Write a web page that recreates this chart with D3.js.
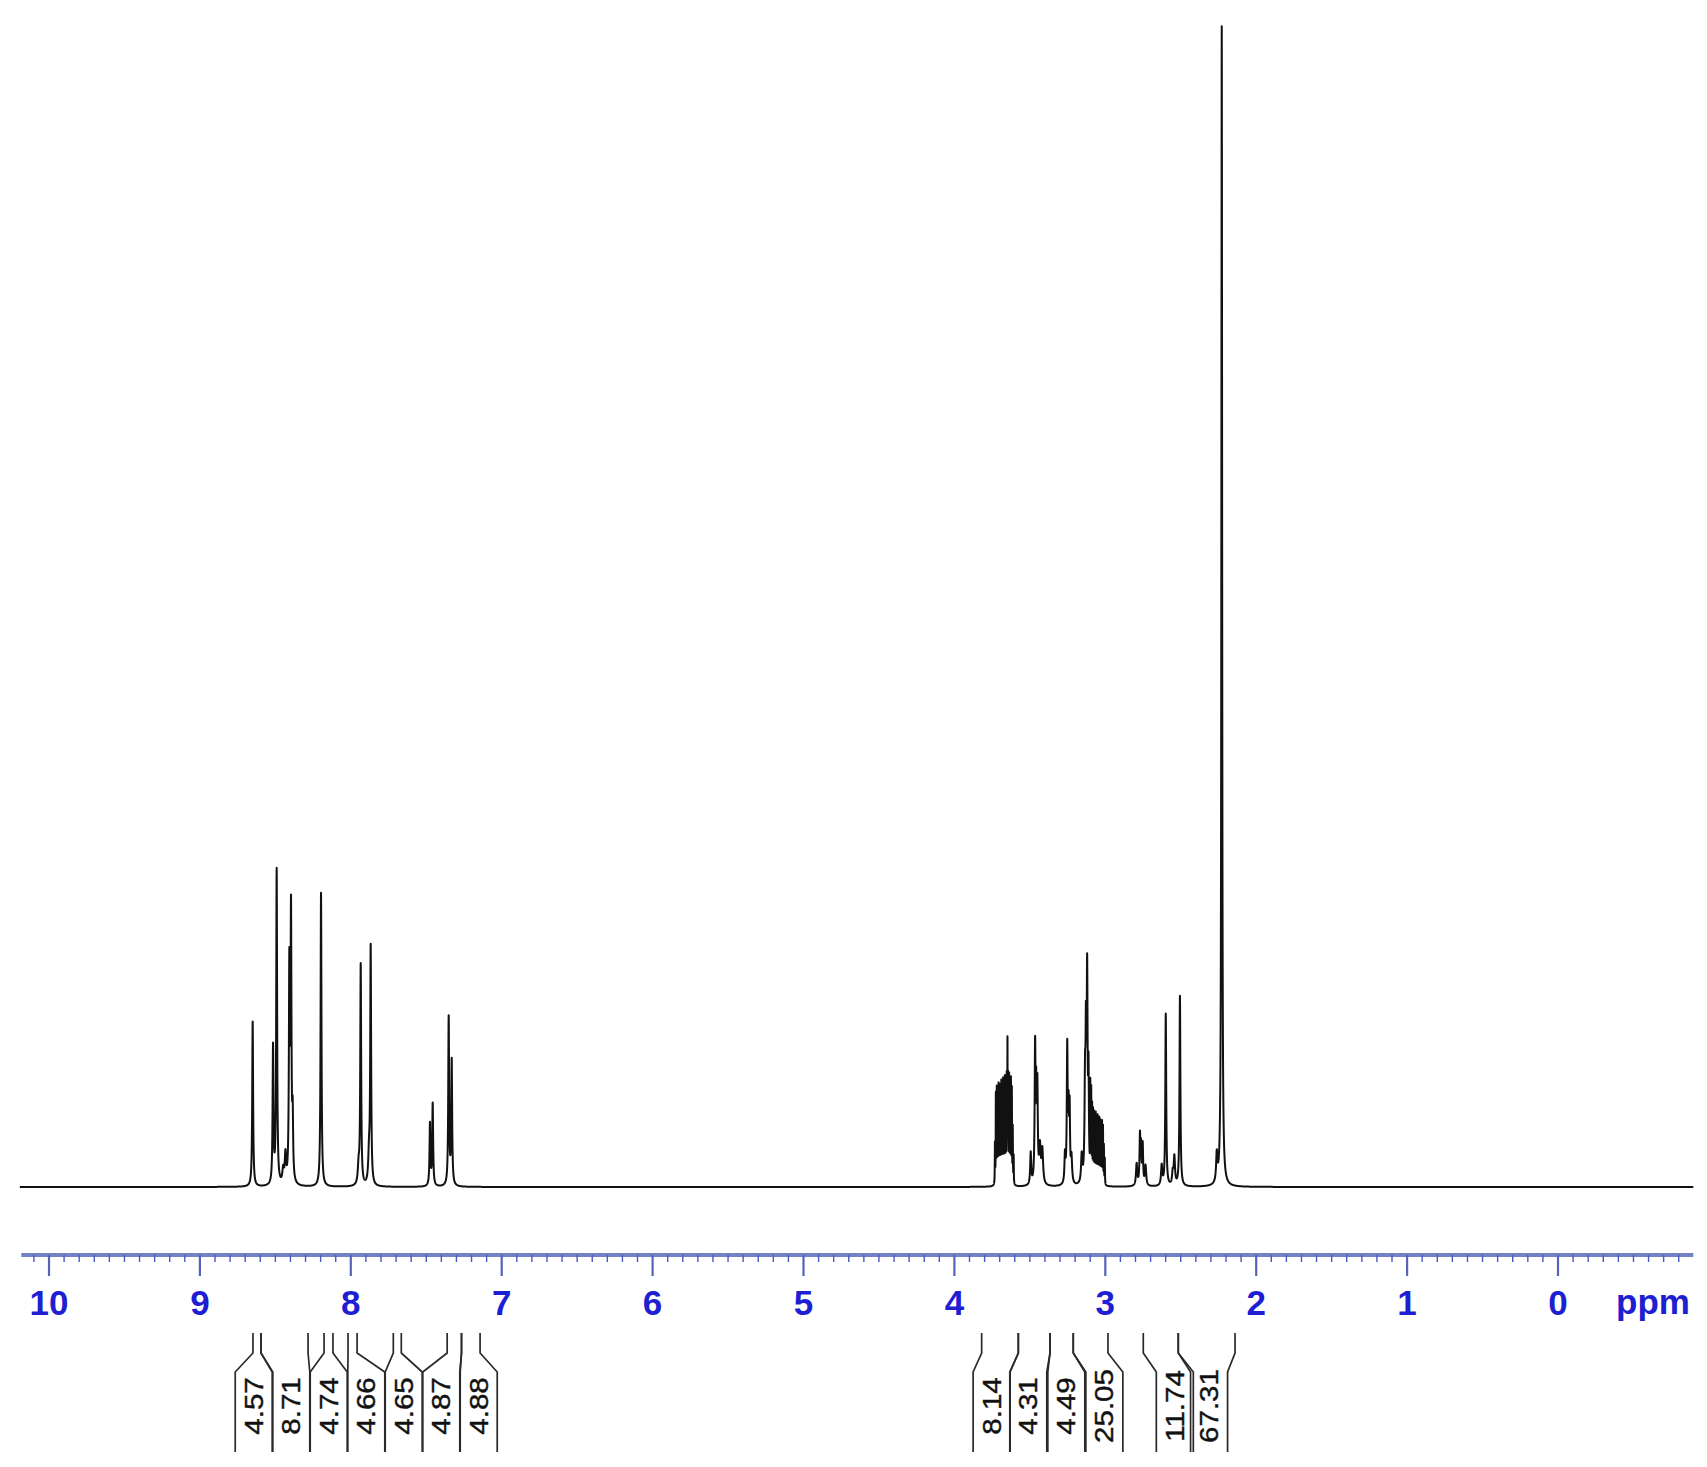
<!DOCTYPE html>
<html>
<head>
<meta charset="utf-8">
<script src="https://cdn.jsdelivr.net/npm/d3@7"></script>
<style>
  html, body { margin: 0; padding: 0; background: #ffffff; }
  svg { display: block; }
</style>
</head>
<body>
<svg id="chart" width="1707" height="1467"></svg>
<script>
// ---------------- DATA ----------------
// Spectrum lines: chemical shift (ppm), peak height (intensity units), half-width (ppm)
const peakPpm = [
  8.647, 8.512, 8.488, 8.445, 8.430, 8.404, 8.393, 8.382, 8.194,
  7.945, 7.931, 7.876, 7.865, 7.472, 7.454, 7.348, 7.328,
  3.728, 3.722, 3.716, 3.710, 3.704, 3.698, 3.692, 3.686, 3.680, 3.674, 3.668,
  3.662, 3.656, 3.650, 3.645, 3.640, 3.634, 3.628, 3.622, 3.616, 3.610, 3.604,
  3.491, 3.462, 3.455, 3.447, 3.430, 3.414,
  3.264, 3.249, 3.240, 3.233, 3.221,
  3.153, 3.131, 3.125, 3.117, 3.108,
  3.096, 3.090, 3.084, 3.078, 3.072, 3.066, 3.060, 3.054, 3.048, 3.042, 3.036,
  3.030, 3.024, 3.018, 3.012, 3.006, 3.000,
  2.789, 2.767, 2.760, 2.749, 2.730,
  2.623, 2.596, 2.550, 2.539, 2.502,
  2.258, 2.225
];
const peakHeight = [
  165, 137, 315, 14, 28, 212, 266, 60, 294,
  18, 220, 28, 236, 62, 82, 168, 124,
  40, 88, 92, 88, 94, 92, 92, 96, 94, 98, 94,
  100, 96, 100, 135, 100, 102, 98, 100, 92, 55, 28,
  32, 132, 76, 92, 36, 34,
  28, 136, 65, 70, 26,
  28, 95, 120, 200, 100,
  90, 86, 72, 68, 66, 64, 66, 62, 64, 62, 62,
  60, 58, 60, 56, 38, 26,
  22, 48, 34, 40, 20,
  20, 172, 12, 28, 190,
  28, 1160
];
const peakWidth = [
  0.0035, 0.0035, 0.0035, 0.006, 0.005, 0.0035, 0.0035, 0.0035, 0.0035,
  0.006, 0.0035, 0.006, 0.0035, 0.0035, 0.0035, 0.0035, 0.0035,
  0.0012, 0.0012, 0.0012, 0.0012, 0.0012, 0.0012, 0.0012, 0.0012, 0.0012, 0.0012, 0.0012,
  0.0012, 0.0012, 0.0012, 0.0012, 0.0012, 0.0012, 0.0012, 0.0012, 0.0012, 0.0012, 0.0012,
  0.004, 0.0035, 0.003, 0.0035, 0.006, 0.006,
  0.004, 0.0035, 0.003, 0.003, 0.005,
  0.005, 0.004, 0.003, 0.0035, 0.003,
  0.0012, 0.0012, 0.0012, 0.0012, 0.0012, 0.0012, 0.0012, 0.0012, 0.0012, 0.0012, 0.0012,
  0.0012, 0.0012, 0.0012, 0.0012, 0.0012, 0.0012,
  0.005, 0.0035, 0.003, 0.0035, 0.005,
  0.005, 0.0035, 0.005, 0.005, 0.0035,
  0.005, 0.003
];
const spectrumRange = [10.19, -0.9];        // ppm span of the plotted trace
const maxIntensity = 1162;

// Axis
const majorTicks = [10, 9, 8, 7, 6, 5, 4, 3, 2, 1, 0];
const tickLabels = ["10", "9", "8", "7", "6", "5", "4", "3", "2", "1", "0"];
const axisUnit = "ppm";

// Integrals: value, region start / end (ppm), label column centre (ppm)
const integralValues = ["4.57", "8.71", "4.74", "4.66", "4.65", "4.87", "4.88",
                        "8.14", "4.31", "4.49", "25.05", "11.74", "67.31"];
const integralStart = [8.645, 8.592, 8.174, 8.015, 7.715, 7.358, 7.263,
                       3.816, 3.573, 3.363, 3.209, 2.745, 2.513];
const integralEnd   = [8.592, 8.280, 8.115, 7.955, 7.662, 7.263, 7.140,
                       3.573, 3.363, 3.209, 2.979, 2.513, 2.137];
const integralLabelAt = [8.640, 8.391, 8.143, 7.894, 7.646, 7.397, 7.149,
                         3.750, 3.507, 3.255, 3.003, 2.536, 2.309];

// ---------------- LAYOUT ----------------
const svg = d3.select("#chart");
const x = d3.scaleLinear().domain([10, 0]).range([48.5, 1557.5]);
const y = d3.scaleLinear().domain([0, maxIntensity]).range([1187, 25]);

// ---------------- SPECTRUM ----------------
const step = 0.0004;
const grid = d3.range(spectrumRange[1], spectrumRange[0] + step / 2, step).concat(peakPpm);
grid.sort((a, b) => a - b);
function intensity(p) {
  let s = 0;
  for (let i = 0; i < peakPpm.length; i++) {
    const d = p - peakPpm[i];
    const g2 = peakWidth[i] * peakWidth[i];
    s += peakHeight[i] * g2 / (g2 + d * d);
  }
  return s;
}
const trace = grid.map(p => ({ p, v: intensity(p) }));
const line = d3.line().x(d => x(d.p)).y(d => y(d.v));
svg.append("path")
  .datum(trace)
  .attr("d", line)
  .attr("fill", "none")
  .attr("stroke", "#111")
  .attr("stroke-width", 2)
  .attr("stroke-linejoin", "round");

// ---------------- AXIS ----------------
const axisY = 1255;
const axisG = svg.append("g").attr("transform", `translate(0,${axisY})`);
const minorTicks = d3.range(-8, 102).map(i => i / 10).filter(v => majorTicks.indexOf(v) < 0);

axisG.append("line")
  .attr("x1", x(spectrumRange[0] - 0.01)).attr("x2", x(spectrumRange[1]))
  .attr("y1", 0).attr("y2", 0)
  .attr("stroke", "#7382c6").attr("stroke-width", 4);

const minorG = axisG.append("g")
  .call(d3.axisBottom(x).tickValues(minorTicks).tickSize(7).tickFormat(""));
minorG.select(".domain").remove();
minorG.selectAll(".tick line").attr("stroke", "#4a58c0").attr("stroke-width", 1.4);

const majorG = axisG.append("g")
  .call(d3.axisBottom(x).tickValues(majorTicks).tickSize(21).tickPadding(14)
        .tickFormat((d, i) => tickLabels[i]));
majorG.select(".domain").remove();
majorG.selectAll(".tick line").attr("stroke", "#5564b8").attr("stroke-width", 2.2);
majorG.selectAll(".tick text")
  .attr("fill", "#1e1ed2")
  .attr("font-family", "'Liberation Sans', Arial, sans-serif")
  .attr("font-weight", "bold")
  .attr("font-size", 35);

svg.append("text")
  .attr("x", 1616).attr("y", 1314)
  .attr("fill", "#1e1ed2")
  .attr("font-family", "'Liberation Sans', Arial, sans-serif")
  .attr("font-weight", "bold")
  .attr("font-size", 35)
  .text(axisUnit);

// ---------------- INTEGRALS ----------------
const yTop = 1333, yKnee1 = 1353, yKnee2 = 1372, yBottom = 1452;
const boxHalf = 18.5;
const intG = svg.append("g");
integralValues.forEach((val, i) => {
  const xa = x(integralStart[i]), xb = x(integralEnd[i]);
  const cx = x(integralLabelAt[i]);
  const bl = cx - boxHalf, br = cx + boxHalf;
  const edge = d3.line();
  intG.append("path")
    .attr("d", edge([[xa, yTop], [xa, yKnee1], [bl, yKnee2], [bl, yBottom]]))
    .attr("fill", "none").attr("stroke", "#2a2a2a").attr("stroke-width", 1.7);
  intG.append("path")
    .attr("d", edge([[xb, yTop], [xb, yKnee1], [br, yKnee2], [br, yBottom]]))
    .attr("fill", "none").attr("stroke", "#2a2a2a").attr("stroke-width", 1.7);
  intG.append("text")
    .attr("transform", `translate(${cx},1406) rotate(-90) scale(1.18,1)`)
    .attr("text-anchor", "middle")
    .attr("dy", "0.36em")
    .attr("fill", "#111")
    .attr("stroke", "#111")
    .attr("stroke-width", 0.4)
    .attr("font-family", "'Liberation Sans', Arial, sans-serif")
    .attr("font-size", 25)
    .text(val);
});
</script>
</body>
</html>
